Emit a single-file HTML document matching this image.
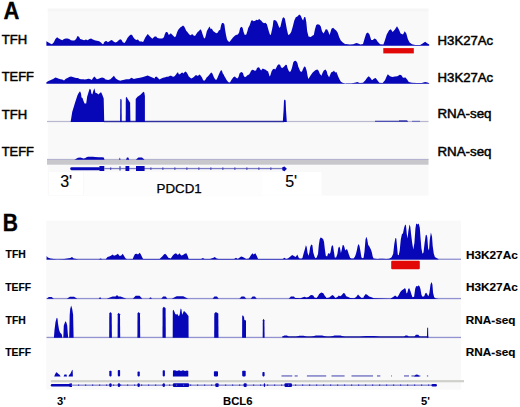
<!DOCTYPE html>
<html><head><meta charset="utf-8"><title>Figure</title>
<style>
html,body{margin:0;padding:0;background:#fff;}
body{width:520px;height:407px;overflow:hidden;font-family:"Liberation Sans",sans-serif;}
svg{display:block;}
</style></head><body>
<svg width="520" height="407" viewBox="0 0 520 407"><rect x="47.8" y="8.6" width="380.7" height="187" fill="#f9f9f9"/><rect x="47.8" y="8.6" width="380.7" height="3" fill="#f6f6f6"/><rect x="49" y="172" width="34" height="23" fill="#ffffff"/><rect x="84" y="172" width="178" height="23.5" fill="#fdfdfd"/><rect x="262" y="172" width="59.5" height="23.5" fill="#ffffff"/><path d="M46.4 45.8 L46.4 41.3 L48.5 42.5 L50.2 43.6 L51.9 44.2 L53.7 42.5 L55.4 39.0 L57.1 37.3 L58.8 38.5 L60.6 39.6 L62.3 40.2 L64.0 39.0 L65.8 38.5 L67.5 38.5 L69.2 39.0 L71.0 40.2 L72.7 40.5 L74.4 40.5 L76.1 39.0 L77.5 36.1 L79.0 36.7 L80.2 39.0 L81.9 39.6 L84.2 40.2 L85.9 39.6 L87.7 40.2 L89.4 39.0 L91.1 38.5 L92.9 39.6 L94.6 40.2 L96.9 40.8 L99.2 41.3 L100.9 42.5 L102.7 44.2 L103.8 43.6 L103.9 42.6 L105.2 41.3 L106.5 40.9 L107.8 42.2 L109.5 41.3 L111.2 40.0 L112.5 40.4 L113.8 41.7 L115.5 42.6 L117.2 41.7 L119.0 40.0 L120.3 39.3 L121.6 40.0 L122.8 42.2 L124.6 43.0 L125.9 40.9 L127.6 37.8 L129.3 35.7 L131.0 34.4 L132.3 35.3 L133.2 37.0 L134.5 38.7 L136.2 40.0 L137.9 39.6 L139.2 40.9 L140.1 41.7 L140.8 41.2 L143.1 41.9 L145.4 37.3 L147.7 33.9 L150.0 36.5 L152.3 38.8 L154.6 36.5 L155.0 36.5 L156.2 36.5 L157.4 38.1 L159.9 38.5 L162.3 38.5 L163.9 37.3 L164.7 34.5 L165.9 32.0 L167.2 32.0 L168.0 33.2 L168.8 34.9 L170.0 34.1 L170.8 33.2 L172.0 34.5 L173.2 35.7 L174.9 37.3 L175.9 36.1 L176.9 32.8 L178.1 30.0 L179.3 28.4 L180.5 27.2 L181.8 26.4 L183.0 25.5 L184.2 26.4 L185.2 28.4 L186.2 30.8 L187.4 32.0 L188.7 33.7 L189.9 34.9 L191.1 35.3 L191.9 34.1 L192.7 34.5 L193.9 35.7 L194.7 35.7 L195.0 35.9 L196.3 34.1 L197.7 31.9 L199.0 31.0 L200.3 29.3 L201.4 30.6 L202.5 34.1 L203.8 37.7 L204.9 38.5 L205.8 35.5 L206.9 31.0 L208.3 28.4 L209.6 26.6 L210.8 29.3 L211.8 28.4 L213.1 31.0 L214.5 31.9 L216.2 33.2 L217.6 32.8 L218.9 30.6 L220.2 29.7 L221.1 25.3 L222.0 23.1 L223.3 23.1 L224.4 24.4 L225.1 29.7 L226.0 35.0 L227.0 39.4 L228.2 41.2 L229.5 42.1 L230.8 40.3 L232.2 38.5 L233.0 37.5 L234.5 36.0 L235.9 35.0 L237.9 34.5 L239.1 32.6 L240.1 28.1 L241.4 26.7 L242.6 27.7 L243.6 32.1 L244.8 35.0 L246.3 34.5 L247.3 31.6 L248.2 28.1 L249.7 25.2 L251.2 20.8 L252.2 20.3 L253.6 21.3 L255.1 20.8 L256.6 19.8 L258.1 20.3 L259.0 18.8 L260.0 19.8 L261.3 20.8 L262.5 22.3 L264.0 23.2 L265.4 22.7 L266.9 24.2 L267.9 28.1 L268.9 31.6 L269.9 34.5 L270.8 35.0 L271.8 30.6 L272.8 25.7 L273.4 20.4 L274.6 20.1 L276.2 20.7 L277.4 22.7 L278.5 25.8 L279.5 28.1 L280.5 26.5 L281.5 21.9 L282.6 18.1 L283.8 17.3 L284.9 18.8 L285.8 23.5 L286.9 29.6 L288.2 35.0 L289.7 34.2 L291.2 31.9 L292.8 26.5 L294.3 20.4 L295.8 17.3 L297.4 16.5 L299.2 14.5 L300.8 15.8 L302.0 18.8 L303.1 20.4 L304.2 17.0 L305.4 17.3 L306.3 21.9 L307.2 31.2 L308.5 36.5 L310.8 37.0 L312.3 35.8 L313.8 35.0 L314.9 29.6 L316.2 25.0 L317.7 24.2 L319.5 24.7 L320.8 26.5 L322.0 31.2 L323.5 33.5 L324.8 31.2 L325.7 29.3 L327.2 29.6 L328.5 31.9 L329.4 35.0 L330.3 32.7 L331.5 28.8 L333.1 27.8 L334.6 29.3 L336.2 30.4 L337.7 32.7 L339.2 37.3 L340.8 40.4 L343.1 42.7 L345.4 44.2 L345.8 43.9 L349.9 44.6 L353.2 44.2 L356.4 42.9 L358.1 43.4 L360.5 44.6 L363.0 43.9 L364.6 38.5 L366.2 33.6 L367.9 32.5 L369.5 34.4 L371.2 40.1 L372.8 40.1 L374.4 38.5 L376.1 39.3 L377.7 41.8 L380.1 44.2 L383.4 44.6 L385.0 40.1 L386.7 34.4 L389.1 30.3 L390.8 29.2 L392.7 32.0 L394.9 29.5 L397.0 26.2 L398.9 29.5 L400.6 33.6 L403.0 34.4 L404.7 31.2 L406.3 33.6 L407.9 39.3 L409.6 42.6 L412.0 44.2 L415.3 44.9 L420.2 44.9 L422.6 43.4 L425.1 41.8 L427.5 43.4 L429.2 44.6 L429.2 45.8 Z" fill="#0707b8"/><rect x="383.3" y="48.1" width="30.5" height="5.3" fill="#e20808"/><path d="M46.4 83.8 L46.4 82.2 L48.5 81.0 L50.8 79.9 L53.1 79.1 L55.4 77.6 L57.1 78.1 L58.8 78.7 L60.6 79.3 L62.3 79.5 L64.0 80.5 L65.8 78.7 L67.5 77.9 L69.2 77.0 L71.0 76.4 L72.7 77.0 L74.4 77.6 L76.1 77.9 L77.9 78.1 L79.6 79.1 L81.3 79.3 L83.1 79.3 L84.8 79.5 L86.5 79.3 L88.3 78.7 L90.0 79.1 L91.7 79.9 L93.4 77.6 L94.6 76.4 L95.7 78.1 L96.9 79.3 L98.6 78.7 L100.4 78.1 L102.1 77.6 L103.8 78.1 L105.0 78.7 L105.0 79.2 L108.1 80.0 L110.4 79.2 L112.7 76.9 L113.9 75.8 L115.8 78.5 L118.1 80.0 L120.4 80.8 L120.8 80.5 L123.1 80.0 L126.2 79.2 L129.2 79.2 L131.5 77.7 L133.8 78.9 L136.9 78.2 L140.0 77.7 L143.1 76.9 L145.4 76.2 L147.7 75.4 L150.0 76.5 L152.3 77.4 L154.6 78.5 L155.0 77.2 L156.2 76.5 L157.3 77.2 L158.5 78.4 L159.6 79.5 L160.8 78.8 L161.9 78.2 L163.1 77.8 L164.2 77.6 L165.4 77.2 L166.5 76.8 L167.7 76.8 L168.8 76.5 L170.0 75.8 L171.2 75.7 L172.3 76.5 L173.8 76.8 L175.0 75.7 L176.2 74.2 L177.3 72.6 L178.1 72.6 L178.8 74.2 L180.0 74.2 L181.2 73.0 L182.3 72.6 L183.5 73.4 L184.2 72.6 L185.4 71.5 L186.5 72.2 L187.7 74.2 L188.8 76.5 L190.0 77.6 L191.2 78.4 L192.3 78.0 L193.2 77.6 L194.3 76.5 L195.5 75.3 L196.6 75.3 L197.8 76.1 L198.9 74.9 L199.7 74.5 L200.8 75.7 L202.0 77.6 L203.2 80.3 L204.3 80.7 L205.5 79.5 L206.6 77.6 L207.8 76.5 L208.9 75.3 L210.1 73.8 L211.1 72.6 L212.0 73.0 L212.8 74.5 L213.9 77.2 L215.1 79.2 L216.2 79.9 L217.4 78.0 L218.5 75.3 L219.5 73.0 L220.5 71.1 L221.2 69.9 L222.0 71.1 L222.8 73.4 L223.5 74.2 L224.3 76.1 L225.5 78.0 L226.6 79.9 L227.8 81.5 L228.9 82.6 L230.1 82.2 L231.2 80.3 L232.4 78.5 L233.6 76.9 L234.9 76.5 L236.1 77.7 L237.3 78.5 L238.5 76.9 L239.6 73.2 L240.5 72.4 L241.8 72.0 L243.0 73.2 L243.8 76.1 L245.0 77.3 L246.2 76.5 L247.4 75.3 L249.1 74.5 L250.3 72.4 L251.1 70.8 L252.3 69.8 L253.5 70.0 L254.7 70.8 L256.0 70.4 L256.8 68.4 L258.0 67.3 L259.2 67.6 L260.2 69.2 L261.2 70.4 L262.0 69.2 L262.8 68.4 L264.1 69.2 L265.3 69.6 L266.5 70.4 L267.5 71.2 L268.0 71.2 L268.8 73.7 L269.6 76.5 L270.4 75.3 L271.6 71.2 L272.9 69.2 L274.1 68.8 L275.3 69.6 L276.5 67.2 L277.7 65.1 L278.9 64.3 L280.2 65.1 L281.0 67.2 L282.2 68.0 L283.4 67.2 L284.6 65.9 L285.8 64.7 L286.8 65.1 L287.5 68.0 L288.7 70.8 L289.7 72.0 L290.7 71.2 L291.5 69.2 L292.3 66.4 L293.3 62.3 L294.4 61.1 L295.6 60.7 L296.5 61.5 L297.4 63.1 L298.2 66.4 L299.2 68.8 L300.0 70.8 L301.1 72.0 L302.1 71.2 L302.9 69.2 L304.1 66.8 L304.9 66.4 L305.7 67.6 L306.8 71.2 L306.8 71.2 L307.6 76.1 L308.4 78.9 L309.6 76.9 L310.9 74.9 L312.5 72.8 L314.1 71.2 L315.7 70.0 L317.4 69.6 L318.6 70.8 L319.8 73.7 L321.4 75.7 L322.6 72.8 L323.8 70.4 L325.5 69.6 L326.7 71.2 L327.5 74.5 L329.1 77.3 L330.3 74.5 L331.1 72.4 L332.0 72.0 L333.2 71.6 L334.0 70.4 L334.8 72.0 L335.6 72.4 L336.4 72.0 L337.2 74.1 L338.4 76.9 L339.7 79.7 L340.9 81.8 L342.1 82.6 L343.3 83.0 L345.7 83.4 L345.8 83.2 L351.5 83.2 L354.8 82.7 L357.3 82.0 L359.7 83.0 L363.0 82.7 L365.4 80.2 L367.1 77.8 L368.7 76.2 L370.3 77.8 L372.0 80.2 L374.1 78.6 L375.7 78.1 L377.4 80.2 L379.3 82.7 L382.6 83.0 L385.0 80.2 L386.7 76.2 L387.8 74.2 L390.0 76.2 L392.4 77.0 L394.9 76.5 L397.3 76.2 L399.8 74.8 L401.4 75.3 L403.0 77.8 L405.5 77.5 L407.1 79.4 L408.8 81.9 L412.0 82.7 L416.9 83.0 L421.8 83.0 L425.1 81.9 L427.5 82.4 L429.2 83.2 L429.2 83.8 Z" fill="#0707b8"/><rect x="47" y="120.9" width="381.5" height="1.2" fill="#b8b8d0"/><rect x="104" y="120.8" width="180" height="1.4" fill="#3030a0"/><rect x="375" y="120.7" width="33" height="1.3" fill="#5050b4"/><rect x="399" y="120.3" width="8" height="1.6" fill="#4040ac"/><rect x="412" y="120.8" width="8" height="1.1" fill="#6a6abf"/><path d="M70.7 122.1 L70.7 121.6 L72.2 111.9 L74.8 103.6 L77.4 95.4 L78.5 93.3 L80.0 91.3 L81.0 93.5 L81.5 97.4 L82.5 98.0 L83.5 101.0 L84.6 103.6 L86.2 103.6 L87.2 96.4 L88.2 93.3 L89.3 89.7 L89.8 88.7 L90.8 89.7 L91.3 93.3 L92.3 94.4 L93.3 91.0 L94.4 88.2 L95.4 92.8 L97.0 93.3 L98.5 94.4 L100.1 92.8 L101.1 92.3 L102.2 94.4 L103.7 98.5 L104.2 121.6 L104.2 122.1 Z" fill="#0707b8"/><path d="M120.1 122.1 L120.3 99.5 L121.0 98.8 L121.6 100.0 L121.7 122.1 Z" fill="#0707b8"/><path d="M125.7 122.1 L125.8 98.0 L126.4 96.8 L130.1 102.7 L130.4 122.1 Z" fill="#0707b8"/><path d="M135.6 122.1 L135.7 99.0 L137.5 96.8 L140.5 94.8 L143.4 91.8 L144.3 92.6 L144.9 96.0 L144.9 122.1 Z" fill="#0707b8"/><path d="M282.8 122.1 L283.6 110.0 L284.0 100.5 L284.8 99.6 L285.6 100.5 L286.0 110.0 L286.8 122.1 Z" fill="#0707b8"/><rect x="47" y="159" width="381.5" height="5.7" fill="#c8c8cc"/><rect x="47" y="158.9" width="381.5" height="0.9" fill="#aeaed0"/><path d="M74.2 159.8 L74.2 159.8 L75.5 159.2 L77.0 158.3 L78.0 157.7 L80.3 157.6 L82.0 157.9 L83.4 158.4 L85.0 158.3 L86.5 157.3 L88.0 156.8 L93.0 156.7 L95.0 157.0 L98.8 157.3 L102.0 157.3 L103.8 157.6 L104.5 159.8 L104.5 159.8 Z" fill="#0707b8"/><path d="M119.2 159.8 L119.6 157.8 L120.0 157.8 L120.4 159.8 L119.2 159.8 Z" fill="#0707b8"/><path d="M126.0 159.8 L127.0 157.6 L128.3 157.6 L129.3 159.8 L126.0 159.8 Z" fill="#0707b8"/><path d="M135.8 159.8 L138.4 157.6 L142.0 157.6 L144.6 159.8 L135.8 159.8 Z" fill="#0707b8"/><rect x="70.2" y="167.3" width="30" height="2.9" rx="1.4" fill="#0707b8"/><rect x="99.4" y="166.0" width="4.9" height="5.0" fill="#0707b8"/><rect x="104" y="167.9" width="180" height="1.3" fill="#7c7cc4"/><rect x="119.3" y="166.0" width="1.4" height="4.8" rx="0.7" fill="#5858c4"/><rect x="125.5" y="166.0" width="3.8" height="5.0" fill="#0707b8"/><rect x="136.0" y="166.0" width="8.6" height="5.0" fill="#0707b8"/><path d="M282.3 167.2 L284.5 166.5 L286.9 168.7 L284.5 171.2 L282.3 170.2 Z" fill="#0707b8"/><rect x="110.0" y="167.5" width="1.3" height="2.3" fill="#4a4ab4"/><rect x="150.2" y="167.5" width="1.3" height="2.3" fill="#4a4ab4"/><rect x="162.2" y="167.5" width="1.3" height="2.3" fill="#4a4ab4"/><rect x="174.2" y="167.5" width="1.3" height="2.3" fill="#4a4ab4"/><rect x="186.2" y="167.5" width="1.3" height="2.3" fill="#4a4ab4"/><rect x="198.2" y="167.5" width="1.3" height="2.3" fill="#4a4ab4"/><rect x="210.2" y="167.5" width="1.3" height="2.3" fill="#4a4ab4"/><rect x="222.2" y="167.5" width="1.3" height="2.3" fill="#4a4ab4"/><rect x="234.2" y="167.5" width="1.3" height="2.3" fill="#4a4ab4"/><rect x="246.2" y="167.5" width="1.3" height="2.3" fill="#4a4ab4"/><rect x="258.2" y="167.5" width="1.3" height="2.3" fill="#4a4ab4"/><rect x="270.2" y="167.5" width="1.3" height="2.3" fill="#4a4ab4"/><rect x="46.2" y="220.6" width="414.8" height="169" fill="#f9f9f9"/><rect x="46.5" y="258.6" width="414.5" height="1.3" fill="#9292d0"/><path d="M46.6 259.6 L46.6 256.1 L47.8 257.5 L50.4 258.4 L53.8 258.9 L57.3 259.2 L64.2 258.9 L70.3 258.0 L72.0 257.1 L73.7 258.5 L78.1 259.2 L98.8 259.2 L100.6 258.4 L102.3 259.2 L105.7 259.2 L107.5 257.1 L109.2 256.6 L110.9 255.8 L112.7 254.4 L114.0 255.8 L116.1 254.9 L117.9 253.7 L119.6 256.1 L121.3 255.4 L122.7 253.7 L124.4 256.6 L125.6 258.4 L126.7 258.9 L127.4 259.2 L132.8 258.9 L133.7 256.6 L135.0 254.0 L136.8 253.7 L138.0 254.4 L139.7 252.8 L140.9 254.4 L142.3 257.5 L143.2 258.9 L159.6 258.9 L162.2 256.6 L163.9 254.4 L165.1 253.7 L166.5 254.9 L168.3 257.8 L170.8 258.4 L172.6 255.8 L174.3 254.0 L176.0 253.2 L177.8 254.9 L179.5 253.2 L181.2 255.4 L183.0 254.9 L184.7 253.7 L186.4 253.2 L187.6 255.8 L188.7 258.9 L201.1 258.9 L202.9 258.0 L204.6 258.9 L209.8 258.9 L210.0 258.9 L213.5 257.8 L214.8 257.1 L216.6 258.4 L218.7 258.9 L234.2 258.9 L236.0 257.8 L237.7 258.9 L239.4 257.8 L241.1 256.6 L242.9 257.1 L244.6 258.0 L246.3 258.9 L248.9 258.4 L250.7 255.4 L252.4 253.2 L253.6 254.4 L255.3 253.2 L256.7 255.8 L258.1 258.9 L282.7 258.9 L284.4 257.8 L286.1 258.9 L287.9 258.4 L290.4 256.6 L292.2 254.9 L293.9 256.1 L295.6 257.1 L297.4 254.4 L297.7 255.4 L299.0 258.3 L301.1 258.8 L302.4 258.1 L303.8 252.7 L305.0 248.8 L305.9 245.3 L306.7 247.0 L307.6 253.1 L308.5 255.7 L309.3 253.1 L310.2 247.0 L311.2 244.4 L312.4 245.3 L313.2 252.2 L314.5 256.5 L315.4 258.3 L316.7 257.4 L318.0 254.0 L318.8 245.3 L319.7 239.2 L320.6 237.5 L321.9 237.9 L323.2 239.2 L324.0 241.8 L324.9 249.6 L325.8 255.7 L327.1 256.5 L327.9 254.0 L328.8 253.1 L329.7 254.0 L330.5 252.2 L331.4 247.0 L332.2 244.9 L333.1 246.2 L334.0 252.2 L334.8 257.4 L336.1 257.4 L337.4 254.0 L338.3 247.9 L339.2 246.6 L340.0 247.9 L340.9 253.1 L341.8 249.6 L342.6 245.3 L343.5 244.9 L344.4 247.0 L345.2 250.5 L346.1 249.6 L347.0 249.2 L347.8 250.9 L348.7 254.0 L350.0 257.4 L350.0 257.7 L351.4 258.6 L353.6 258.6 L355.0 256.4 L355.9 254.1 L356.8 250.5 L357.7 245.9 L358.6 244.1 L359.5 245.9 L360.5 251.4 L361.4 257.3 L362.3 258.2 L363.6 257.7 L364.5 251.4 L365.5 239.5 L366.4 236.8 L367.3 239.5 L368.2 245.0 L369.1 245.9 L370.0 247.7 L370.9 249.5 L371.8 252.3 L372.7 256.4 L373.6 258.6 L377.3 258.9 L380.0 258.7 L382.7 258.8 L386.4 258.9 L389.1 258.8 L390.5 257.9 L391.6 257.2 L393.2 253.7 L394.3 244.0 L395.4 238.0 L396.3 238.6 L397.0 246.1 L397.8 254.8 L398.7 255.3 L399.7 250.5 L400.8 239.6 L401.9 234.2 L403.0 233.2 L404.1 227.7 L405.2 224.5 L406.0 225.6 L406.8 234.2 L407.5 238.6 L408.4 231.0 L409.5 224.5 L410.3 226.7 L411.1 234.2 L412.2 242.9 L413.3 249.4 L414.4 242.9 L415.4 228.8 L416.2 223.4 L417.6 224.5 L418.7 223.4 L419.8 227.7 L420.5 237.5 L421.4 248.3 L422.5 253.7 L423.5 252.6 L424.6 242.9 L425.7 235.3 L426.6 234.8 L427.3 237.5 L428.1 248.3 L429.0 250.5 L429.8 239.6 L430.9 232.6 L432.0 236.4 L432.7 246.1 L433.8 253.7 L434.9 257.0 L436.5 258.0 L438.4 259.0 L438.4 259.6 Z" fill="#0707b8"/><rect x="391.2" y="260.7" width="28.6" height="8.6" rx="1" fill="#e20808"/><rect x="46.5" y="297.9" width="414.5" height="1.3" fill="#9292d0"/><path d="M46.6 298.8 L48.8 297.0 L51.6 297.0 L53.8 298.8 L46.6 298.8 Z" fill="#0707b8"/><path d="M66.8 298.8 L69.9 296.8 L74.1 296.8 L77.2 298.8 L66.8 298.8 Z" fill="#0707b8"/><path d="M98.8 298.8 L99.6 297.6 L100.6 297.6 L101.4 298.8 L98.8 298.8 Z" fill="#0707b8"/><path d="M106.6 298.8 L112.6 296.6 L120.5 296.6 L126.5 298.8 L106.6 298.8 Z" fill="#0707b8"/><path d="M115.0 298.8 L116.2 295.6 L117.8 295.6 L119.0 298.8 L115.0 298.8 Z" fill="#0707b8"/><path d="M132.8 298.8 L135.7 295.8 L139.5 295.8 L142.3 298.8 L132.8 298.8 Z" fill="#0707b8"/><path d="M149.2 298.8 L150.0 297.6 L151.0 297.6 L151.8 298.8 L149.2 298.8 Z" fill="#0707b8"/><path d="M161.3 298.8 L163.1 296.6 L165.6 296.6 L167.4 298.8 L161.3 298.8 Z" fill="#0707b8"/><path d="M171.7 298.8 L176.6 296.2 L183.2 296.2 L188.2 298.8 L171.7 298.8 Z" fill="#0707b8"/><path d="M212.6 298.8 L214.4 296.6 L216.9 296.6 L218.7 298.8 L212.6 298.8 Z" fill="#0707b8"/><path d="M239.4 298.8 L241.5 296.6 L244.2 296.6 L246.3 298.8 L239.4 298.8 Z" fill="#0707b8"/><path d="M250.7 298.8 L252.5 296.6 L254.9 296.6 L256.7 298.8 L250.7 298.8 Z" fill="#0707b8"/><path d="M288.7 298.8 L290.9 296.6 L293.8 296.6 L296.0 298.8 L288.7 298.8 Z" fill="#0707b8"/><path d="M295.0 298.9 L295.0 298.0 L300.4 298.3 L302.4 297.6 L304.4 296.7 L306.4 297.6 L308.5 296.9 L310.5 295.3 L311.8 294.9 L313.2 295.6 L314.5 297.6 L316.5 298.0 L317.9 296.2 L319.2 294.0 L321.2 292.6 L323.3 293.2 L324.6 295.6 L326.6 298.0 L329.3 297.6 L331.3 295.8 L332.7 294.9 L334.0 296.2 L335.4 298.0 L337.4 296.9 L338.8 295.6 L340.1 296.2 L341.4 295.6 L343.5 292.9 L344.8 293.6 L346.2 296.2 L348.2 296.9 L350.2 298.0 L354.2 298.3 L356.2 296.9 L358.0 294.5 L359.6 296.2 L361.6 298.0 L363.7 297.6 L363.8 296.5 L365.8 293.9 L367.4 295.0 L369.2 296.5 L371.5 297.3 L373.8 298.2 L390.3 298.8 L391.9 297.8 L393.5 296.7 L395.1 295.6 L396.1 296.2 L397.2 297.2 L398.8 295.1 L400.3 291.9 L401.9 290.3 L403.5 289.3 L404.6 288.2 L405.6 288.8 L406.5 293.5 L407.4 292.5 L408.3 288.8 L409.3 288.2 L410.4 290.9 L411.5 294.6 L412.5 297.2 L414.1 296.7 L415.2 288.8 L416.2 286.1 L417.3 286.6 L418.3 285.6 L419.4 286.1 L420.4 288.8 L421.5 295.1 L422.6 296.7 L424.2 296.2 L425.2 293.5 L426.3 292.8 L427.3 294.6 L428.4 296.2 L429.4 293.0 L430.5 284.5 L431.6 281.9 L432.4 284.5 L433.1 293.0 L434.2 297.2 L435.8 298.5 L437.9 298.8 L437.9 298.9 Z" fill="#0707b8"/><rect x="46.5" y="336.8" width="414.5" height="1.3" fill="#9292d0"/><rect x="282.3" y="336.1" width="146" height="1.7" fill="#3636a6"/><path d="M282.3 337.0 L284.3 335.5 L287.0 335.5 L289.0 337.0 L282.3 337.0 Z" fill="#0707b8"/><path d="M296.0 337.0 L299.3 335.7 L303.7 335.7 L307.0 337.0 L296.0 337.0 Z" fill="#0707b8"/><path d="M311.0 337.0 L315.8 335.6 L322.2 335.6 L327.0 337.0 L311.0 337.0 Z" fill="#0707b8"/><path d="M330.0 337.0 L334.5 335.6 L340.5 335.6 L345.0 337.0 L330.0 337.0 Z" fill="#0707b8"/><path d="M360.0 337.0 L366.0 335.9 L374.0 335.9 L380.0 337.0 L360.0 337.0 Z" fill="#0707b8"/><path d="M403.8 337.0 L405.4 335.6 L407.4 335.6 L409.0 337.0 L403.8 337.0 Z" fill="#0707b8"/><path d="M414.2 337.0 L415.9 334.7 L418.3 334.7 L420.0 337.0 L414.2 337.0 Z" fill="#0707b8"/><path d="M53.9 337.8 L54.5 330.0 L55.5 322.0 L56.7 317.7 L57.5 318.5 L58.0 323.6 L59.0 329.5 L60.0 332.5 L61.0 333.5 L61.8 334.5 L62.3 337.8 Z" fill="#0707b8"/><path d="M63.3 337.8 L63.8 325.6 L65.2 321.8 L65.7 321.2 L66.5 323.0 L67.2 325.6 L67.7 332.5 L68.2 337.8 Z" fill="#0707b8"/><path d="M69.2 337.8 L69.7 314.8 L70.2 308.9 L71.2 305.4 L72.2 308.9 L73.1 314.8 L73.6 337.8 Z" fill="#0707b8"/><path d="M109.2 337.8 L109.3 313.4 L110.3 311.9 L111.7 313.4 L111.9 337.8 Z" fill="#0707b8"/><path d="M117.6 337.8 L117.7 314.2 L118.6 312.7 L120.0 314.2 L120.2 337.8 Z" fill="#0707b8"/><path d="M137.4 337.8 L137.5 313.4 L138.5 311.9 L140.0 313.4 L140.2 337.8 Z" fill="#0707b8"/><path d="M162.5 337.8 L162.6 308.2 L163.8 306.7 L165.6 308.2 L165.8 337.8 Z" fill="#0707b8"/><path d="M214.2 337.8 L214.3 313.4 L215.9 311.9 L218.3 313.4 L218.5 337.8 Z" fill="#0707b8"/><path d="M262.7 337.8 L262.8 320.3 L263.5 318.8 L264.4 320.3 L264.6 337.8 Z" fill="#0707b8"/><path d="M242.1 337.8 L242.2 316.0 L242.9 315.2 L244.0 317.0 L244.4 320.0 L246.0 320.5 L246.0 337.8 Z" fill="#0707b8"/><path d="M172.7 337.8 L172.8 310.8 L173.5 309.8 L174.5 312.0 L175.2 313.8 L176.2 314.7 L177.2 313.8 L178.0 315.2 L179.0 316.2 L179.8 314.0 L180.6 308.4 L181.5 309.5 L182.1 314.7 L183.0 313.0 L184.0 310.8 L185.0 312.0 L186.0 312.8 L187.5 314.7 L188.5 316.0 L188.6 337.8 Z" fill="#0707b8"/><path d="M426.9 337.8 L427.2 327.7 L428.1 327.7 L428.3 337.8 Z" fill="#0707b8"/><path d="M54.2 376.4 L55.0 374.5 L56.2 372.2 L57.2 372.8 L58.5 374.0 L59.8 375.0 L60.6 376.4 Z" fill="#0707b8"/><path d="M63.6 376.4 L64.5 374.6 L66.5 374.6 L67.0 376.4 Z" fill="#0707b8"/><path d="M68.5 376.4 L69.0 375.0 L70.2 374.0 L71.2 372.0 L72.0 370.2 L72.6 369.7 L72.9 376.4 Z" fill="#0707b8"/><rect x="109.3" y="370.7" width="2.3" height="5.7" rx="0.8" fill="#0707b8"/><rect x="117.8" y="370.0" width="2.3" height="6.4" rx="0.8" fill="#0707b8"/><rect x="137.5" y="371.6" width="2.3" height="4.8" rx="0.8" fill="#0707b8"/><rect x="162.7" y="370.2" width="2.2" height="6.2" rx="0.8" fill="#0707b8"/><rect x="213.9" y="371.3" width="4.1" height="5.1" rx="0.8" fill="#0707b8"/><rect x="242.2" y="370.8" width="3.5" height="5.6" rx="0.8" fill="#0707b8"/><rect x="262.4" y="372.0" width="2.2" height="4.4" rx="0.8" fill="#0707b8"/><path d="M172.9 376.4 L173.0 370.6 L175.0 370.2 L177.0 371.0 L179.0 370.2 L181.0 371.0 L183.0 370.2 L185.0 371.0 L187.0 370.5 L188.3 371.0 L188.3 376.4 Z" fill="#0707b8"/><rect x="281.5" y="375.4" width="10.8" height="1.1" fill="#5050b4"/><rect x="294.6" y="375.4" width="3.1" height="1.1" fill="#5050b4"/><rect x="306.9" y="375.4" width="19.3" height="1.1" fill="#5050b4"/><rect x="331.5" y="375.4" width="13.1" height="1.1" fill="#5050b4"/><rect x="351.5" y="375.4" width="21.5" height="1.1" fill="#5050b4"/><rect x="377.0" y="375.4" width="3.3" height="1.1" fill="#5050b4"/><rect x="391.0" y="375.4" width="0.8" height="1.1" fill="#5050b4"/><rect x="404.0" y="375.4" width="5.0" height="1.1" fill="#5050b4"/><rect x="411.4" y="375.4" width="9.0" height="1.1" fill="#5050b4"/><rect x="426.9" y="375.4" width="1.3" height="1.1" fill="#5050b4"/><path d="M414.0 376.6 L416.0 374.6 L418.0 374.8 L419.6 376.6 Z" fill="#0707b8"/><rect x="50.8" y="380.1" width="413.2" height="2.2" fill="#cfd0ca"/><rect x="50.8" y="384.0" width="20.6" height="2.4" rx="1.2" fill="#0707b8"/><rect x="69.5" y="383.4" width="2.5" height="3.6" fill="#0707b8"/><rect x="71.4" y="384.6" width="365" height="1.1" fill="#7070c8"/><rect x="109.3" y="383.2" width="2.3" height="3.9" rx="1.1" fill="#0707b8"/><rect x="117.8" y="383.2" width="2.3" height="3.9" rx="1.1" fill="#0707b8"/><rect x="137.5" y="383.2" width="2.3" height="3.9" rx="1.1" fill="#0707b8"/><rect x="162.7" y="383.2" width="2.2" height="3.9" rx="1.1" fill="#0707b8"/><rect x="172.9" y="383.2" width="16.2" height="3.9" rx="1.1" fill="#0707b8"/><rect x="215.3" y="383.2" width="3.5" height="3.9" rx="1.1" fill="#0707b8"/><rect x="243.6" y="383.2" width="3.2" height="3.9" rx="1.1" fill="#0707b8"/><rect x="263.8" y="383.2" width="1.3" height="3.9" rx="1.1" fill="#0707b8"/><rect x="284.5" y="383.2" width="7.5" height="3.9" rx="1.1" fill="#0707b8"/><rect x="431.5" y="383.9" width="5.4" height="2.6" rx="1.2" fill="#0707b8"/><rect x="78" y="384.4" width="1.2" height="1.6" fill="#4848b8"/><rect x="85" y="384.4" width="1.2" height="1.6" fill="#4848b8"/><rect x="92" y="384.4" width="1.2" height="1.6" fill="#4848b8"/><rect x="99" y="384.4" width="1.2" height="1.6" fill="#4848b8"/><rect x="106" y="384.4" width="1.2" height="1.6" fill="#4848b8"/><rect x="113" y="384.4" width="1.2" height="1.6" fill="#4848b8"/><rect x="120" y="384.4" width="1.2" height="1.6" fill="#4848b8"/><rect x="127" y="384.4" width="1.2" height="1.6" fill="#4848b8"/><rect x="134" y="384.4" width="1.2" height="1.6" fill="#4848b8"/><rect x="141" y="384.4" width="1.2" height="1.6" fill="#4848b8"/><rect x="148" y="384.4" width="1.2" height="1.6" fill="#4848b8"/><rect x="155" y="384.4" width="1.2" height="1.6" fill="#4848b8"/><rect x="162" y="384.4" width="1.2" height="1.6" fill="#4848b8"/><rect x="169" y="384.4" width="1.2" height="1.6" fill="#4848b8"/><rect x="176" y="384.4" width="1.2" height="1.6" fill="#4848b8"/><rect x="183" y="384.4" width="1.2" height="1.6" fill="#4848b8"/><rect x="190" y="384.4" width="1.2" height="1.6" fill="#4848b8"/><rect x="197" y="384.4" width="1.2" height="1.6" fill="#4848b8"/><rect x="204" y="384.4" width="1.2" height="1.6" fill="#4848b8"/><rect x="211" y="384.4" width="1.2" height="1.6" fill="#4848b8"/><rect x="218" y="384.4" width="1.2" height="1.6" fill="#4848b8"/><rect x="225" y="384.4" width="1.2" height="1.6" fill="#4848b8"/><rect x="232" y="384.4" width="1.2" height="1.6" fill="#4848b8"/><rect x="239" y="384.4" width="1.2" height="1.6" fill="#4848b8"/><rect x="246" y="384.4" width="1.2" height="1.6" fill="#4848b8"/><rect x="253" y="384.4" width="1.2" height="1.6" fill="#4848b8"/><rect x="260" y="384.4" width="1.2" height="1.6" fill="#4848b8"/><rect x="267" y="384.4" width="1.2" height="1.6" fill="#4848b8"/><rect x="274" y="384.4" width="1.2" height="1.6" fill="#4848b8"/><rect x="281" y="384.4" width="1.2" height="1.6" fill="#4848b8"/><rect x="288" y="384.4" width="1.2" height="1.6" fill="#4848b8"/><rect x="295" y="384.4" width="1.2" height="1.6" fill="#4848b8"/><rect x="302" y="384.4" width="1.2" height="1.6" fill="#4848b8"/><rect x="309" y="384.4" width="1.2" height="1.6" fill="#4848b8"/><rect x="316" y="384.4" width="1.2" height="1.6" fill="#4848b8"/><rect x="323" y="384.4" width="1.2" height="1.6" fill="#4848b8"/><rect x="330" y="384.4" width="1.2" height="1.6" fill="#4848b8"/><rect x="337" y="384.4" width="1.2" height="1.6" fill="#4848b8"/><rect x="344" y="384.4" width="1.2" height="1.6" fill="#4848b8"/><rect x="351" y="384.4" width="1.2" height="1.6" fill="#4848b8"/><rect x="358" y="384.4" width="1.2" height="1.6" fill="#4848b8"/><rect x="365" y="384.4" width="1.2" height="1.6" fill="#4848b8"/><rect x="372" y="384.4" width="1.2" height="1.6" fill="#4848b8"/><rect x="379" y="384.4" width="1.2" height="1.6" fill="#4848b8"/><rect x="386" y="384.4" width="1.2" height="1.6" fill="#4848b8"/><rect x="393" y="384.4" width="1.2" height="1.6" fill="#4848b8"/><rect x="400" y="384.4" width="1.2" height="1.6" fill="#4848b8"/><rect x="407" y="384.4" width="1.2" height="1.6" fill="#4848b8"/><rect x="414" y="384.4" width="1.2" height="1.6" fill="#4848b8"/><rect x="421" y="384.4" width="1.2" height="1.6" fill="#4848b8"/><rect x="428" y="384.4" width="1.2" height="1.6" fill="#4848b8"/><g font-family="Liberation Sans, sans-serif" fill="#000"><text x="3.5" y="19.3" font-size="23.0" font-weight="bold" stroke="#000" stroke-width="0.30" textLength="15.9" lengthAdjust="spacingAndGlyphs">A</text><text x="1.7" y="44.1" font-size="12.2" font-weight="normal" stroke="#000" stroke-width="0.45" textLength="25.4" lengthAdjust="spacingAndGlyphs">TFH</text><text x="1.7" y="81.2" font-size="12.2" font-weight="normal" stroke="#000" stroke-width="0.45" textLength="32.2" lengthAdjust="spacingAndGlyphs">TEFF</text><text x="1.7" y="119.1" font-size="12.2" font-weight="normal" stroke="#000" stroke-width="0.45" textLength="25.4" lengthAdjust="spacingAndGlyphs">TFH</text><text x="1.7" y="155.9" font-size="12.2" font-weight="normal" stroke="#000" stroke-width="0.45" textLength="32.2" lengthAdjust="spacingAndGlyphs">TEFF</text><text x="437.6" y="44.5" font-size="12.2" font-weight="normal" stroke="#000" stroke-width="0.45" textLength="55.6" lengthAdjust="spacingAndGlyphs">H3K27Ac</text><text x="437.6" y="81.5" font-size="12.2" font-weight="normal" stroke="#000" stroke-width="0.45" textLength="55.6" lengthAdjust="spacingAndGlyphs">H3K27Ac</text><text x="437.4" y="118.2" font-size="12.0" font-weight="normal" stroke="#000" stroke-width="0.45" textLength="54.1" lengthAdjust="spacingAndGlyphs">RNA-seq</text><text x="437.4" y="155.8" font-size="12.0" font-weight="normal" stroke="#000" stroke-width="0.45" textLength="54.1" lengthAdjust="spacingAndGlyphs">RNA-seq</text><text x="60.2" y="186.7" font-size="16.0" font-weight="normal" stroke="#000" stroke-width="0.15">3&#39;</text><text x="285.2" y="186.8" font-size="16.0" font-weight="normal" stroke="#000" stroke-width="0.15">5&#39;</text><text x="156.5" y="193.3" font-size="11.9" font-weight="normal" stroke="#000" stroke-width="0.25" textLength="45.3" lengthAdjust="spacingAndGlyphs">PDCD1</text><text x="2.7" y="230.9" font-size="23.2" font-weight="bold" stroke="#000" stroke-width="0.40" textLength="15.2" lengthAdjust="spacingAndGlyphs">B</text><text x="5.6" y="258.4" font-size="11.3" font-weight="bold" stroke="#000" stroke-width="0.15" textLength="20.2" lengthAdjust="spacingAndGlyphs">TFH</text><text x="5.2" y="290.9" font-size="11.3" font-weight="bold" stroke="#000" stroke-width="0.15" textLength="25.9" lengthAdjust="spacingAndGlyphs">TEFF</text><text x="5.6" y="323.6" font-size="11.3" font-weight="bold" stroke="#000" stroke-width="0.15" textLength="20.2" lengthAdjust="spacingAndGlyphs">TFH</text><text x="5.2" y="356.0" font-size="11.3" font-weight="bold" stroke="#000" stroke-width="0.15" textLength="25.9" lengthAdjust="spacingAndGlyphs">TEFF</text><text x="465.9" y="258.9" font-size="11.8" font-weight="bold" stroke="#000" stroke-width="0.15" textLength="51.9" lengthAdjust="spacingAndGlyphs">H3K27Ac</text><text x="465.9" y="290.9" font-size="11.8" font-weight="bold" stroke="#000" stroke-width="0.15" textLength="51.9" lengthAdjust="spacingAndGlyphs">H3K27Ac</text><text x="465.8" y="324.0" font-size="11.8" font-weight="bold" stroke="#000" stroke-width="0.15" textLength="49.6" lengthAdjust="spacingAndGlyphs">RNA-seq</text><text x="465.8" y="355.8" font-size="11.8" font-weight="bold" stroke="#000" stroke-width="0.15" textLength="49.6" lengthAdjust="spacingAndGlyphs">RNA-seq</text><text x="57.0" y="405.0" font-size="11.2" font-weight="bold">3&#39;</text><text x="223.0" y="404.8" font-size="11.4" font-weight="bold" stroke="#000" stroke-width="0.10" textLength="29.4" lengthAdjust="spacingAndGlyphs">BCL6</text><text x="421.0" y="405.3" font-size="11.2" font-weight="bold">5&#39;</text></g></svg>
</body></html>
